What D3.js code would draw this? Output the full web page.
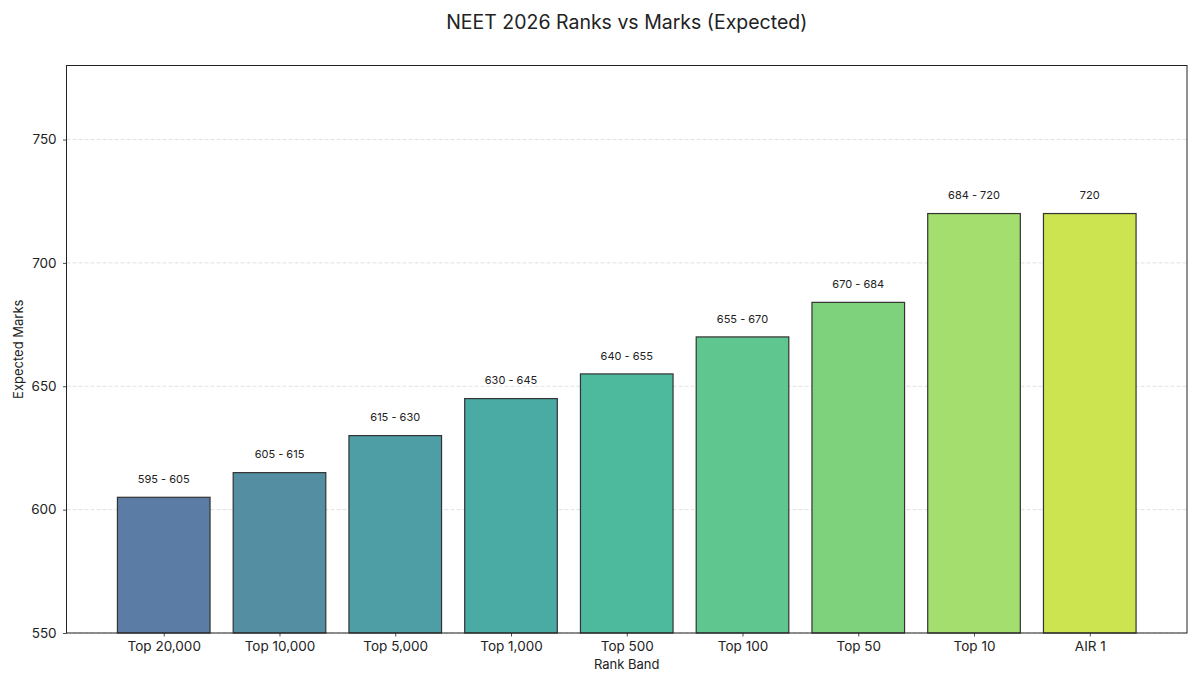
<!DOCTYPE html>
<html>
<head>
<meta charset="utf-8">
<script src="https://cdn.jsdelivr.net/npm/d3@7"></script>
<style>
  body { margin: 0; background: #fff; }
  text { font-family: Inter, "Open Sans", sans-serif; fill: #222; }
</style>
</head>
<body>
<div id="chart"></div>
<script>
// rank bands and expected marks range
const bands = ["Top 20,000", "Top 10,000", "Top 5,000", "Top 1,000", "Top 500", "Top 100", "Top 50", "Top 10", "AIR 1"];
const lowMarks = [595, 605, 615, 630, 640, 655, 670, 684, 720];
const highMarks = [605, 615, 630, 645, 655, 670, 684, 720, 720];
const yTicks = [550, 600, 650, 700, 750];
const palette = ["#5b7ca5", "#548ea3", "#4e9ea6", "#4aaba5", "#4db99d", "#5fc690", "#7ed27b", "#a3de6e", "#cbe44f"];

const data = bands.map((b, i) => ({
    band: b,
    low: lowMarks[i],
    high: highMarks[i],
    label: lowMarks[i] === highMarks[i] ? String(highMarks[i]) : lowMarks[i] + " - " + highMarks[i]
}));

var margin = { top: 65.5, right: 13, bottom: 53, left: 66.5 },
    W = 1200, H = 686,
    width = W - margin.left - margin.right,
    height = H - margin.top - margin.bottom;

var svg = d3.select("#chart").append("svg")
    .attr("width", W).attr("height", H);

var g = svg.append("g")
    .attr("transform", "translate(" + margin.left + "," + margin.top + ")");

// matplotlib-like: bar width 0.8, 5% margins
var x = d3.scaleLinear().domain([-0.84, bands.length - 1 + 0.84]).range([0, width]);
var y = d3.scaleLinear().domain([550, 780]).range([height, 0]);
var bw = x(0.8) - x(0);

// grid
g.selectAll(".grid")
    .data(yTicks)
    .enter().append("line")
    .attr("x1", 0).attr("x2", width)
    .attr("y1", d => y(d)).attr("y2", d => y(d))
    .attr("stroke", "#d9d9d9")
    .attr("stroke-width", 0.8)
    .attr("stroke-dasharray", "4,2");

// bars
g.selectAll(".bar")
    .data(data)
    .enter().append("rect")
    .attr("x", (d, i) => x(i) - bw / 2)
    .attr("y", d => y(d.high))
    .attr("width", bw)
    .attr("height", d => height - y(d.high))
    .attr("fill", (d, i) => palette[i])
    .attr("stroke", "#333")
    .attr("stroke-width", 1.2);

// value labels
g.selectAll(".lbl")
    .data(data)
    .enter().append("text")
    .attr("x", (d, i) => x(i))
    .attr("y", d => y(d.high + 5) - 2)
    .attr("text-anchor", "middle")
    .style("font-size", "11px")
    .text(d => d.label);

// axes
var xAxis = g.append("g")
    .attr("transform", "translate(0," + height + ")")
    .call(d3.axisBottom(x).tickValues(d3.range(bands.length)).tickFormat(i => bands[i]).tickSize(3.5).tickSizeOuter(0));
var yAxis = g.append("g")
    .call(d3.axisLeft(y).tickValues(yTicks).tickSize(3.5).tickSizeOuter(0));

[xAxis, yAxis].forEach(a => {
    a.select(".domain").remove();
    a.selectAll("line").attr("stroke", "#222").attr("stroke-width", 0.8);
    a.selectAll("text").style("font-size", "13.5px").attr("fill", "#222");
});
xAxis.selectAll("text").attr("dy", "0.88em");
yAxis.selectAll("text").attr("dx", "-0.25em");

// frame
g.append("rect")
    .attr("width", width).attr("height", height)
    .attr("fill", "none").attr("stroke", "#222").attr("stroke-width", 1);

// titles
svg.append("text")
    .attr("x", margin.left + width / 2).attr("y", 29)
    .attr("text-anchor", "middle")
    .style("font-size", "19.5px")
    .text("NEET 2026 Ranks vs Marks (Expected)");

svg.append("text")
    .attr("x", margin.left + width / 2).attr("y", 669)
    .attr("text-anchor", "middle")
    .style("font-size", "13px")
    .text("Rank Band");

svg.append("text")
    .attr("transform", "translate(23," + (margin.top + height / 2) + ")rotate(-90)")
    .attr("text-anchor", "middle")
    .style("font-size", "13px")
    .text("Expected Marks");
</script>
</body>
</html>
